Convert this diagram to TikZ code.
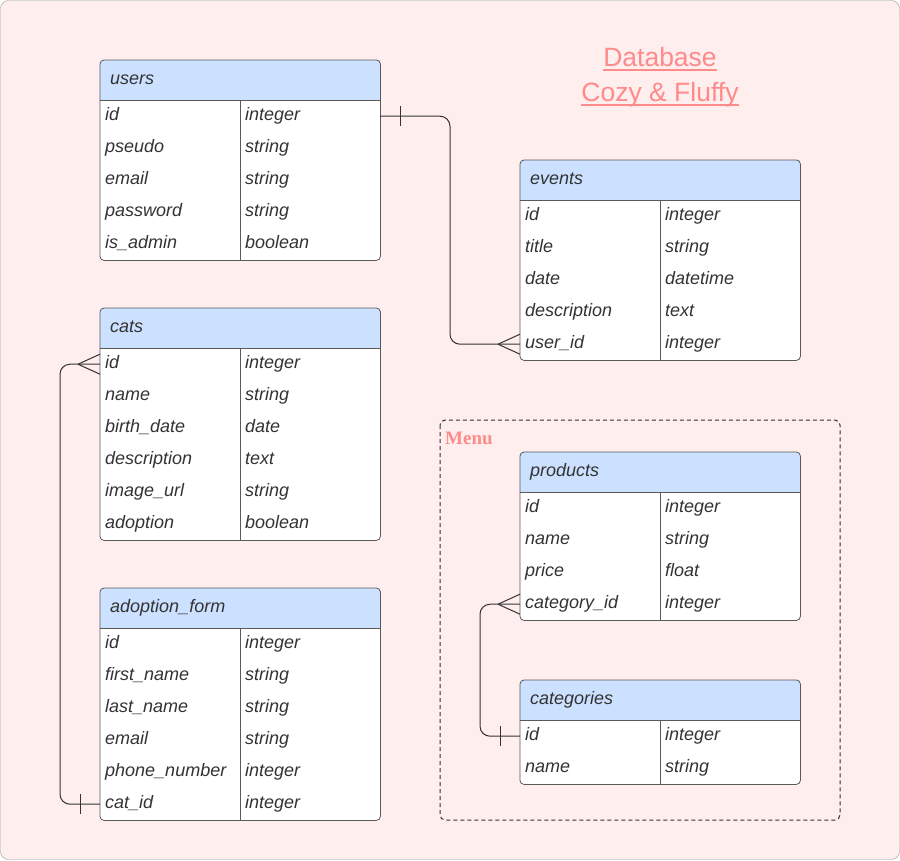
\documentclass[tikz,border=0pt]{standalone}
\usepackage{fontspec}
\setmainfont{Liberation Sans}
\newfontfamily\menufont{Liberation Serif}
\usetikzlibrary{positioning}
\definecolor{canvas}{HTML}{FFEEEE}
\definecolor{headblue}{HTML}{CCE0FF}
\definecolor{framegray}{HTML}{5A5A5A}
\definecolor{inkgray}{HTML}{333333}
\definecolor{titlepink}{HTML}{FF8A8A}

\tikzset{
  cellbox/.style={anchor=north west,minimum width=140pt,minimum height=32pt,inner xsep=5pt,inner ysep=0pt,
    text width=130pt,align=left,text height=14pt,text depth=5pt,text=inkgray,font=\fontsize{18}{20}\selectfont\itshape},
  headbox/.style={cellbox,minimum width=280pt,minimum height=40pt,inner xsep=10pt,text width=260pt},
  link/.style={draw=inkgray,line width=1pt},
  titletext/.style={anchor=base,inner sep=0pt,text=titlepink,font=\fontsize{26.5}{30}\selectfont},
}

% one table: name, top-left corner, title, number of rows, field/type list
\newcommand{\dbtable}[5]{%
  \begin{scope}[shift={#2}]
    \fill[white,rounded corners=4pt] (0,0) rectangle (280,{40+32*#4});
    \fill[headblue,rounded corners=4pt] (0,0) rectangle (280,40);
    \fill[headblue] (0,20) rectangle (280,40);
    \node[headbox] (#1) at (0,0) {#3};
    \foreach \fld/\typ [count=\i] in {#5} {
      \node[cellbox] (#1-\i) at (0,{8+32*\i}) {\fld};
      \node[cellbox] (#1-\i-t) at (140,{8+32*\i}) {\typ};
    }
    \draw[framegray,line width=0.8pt] (#1.south west) -- (#1.south east);
    \draw[framegray,line width=0.8pt] (#1-1.north east) -- (#1-#4.south east);
    \draw[framegray,line width=0.8pt,rounded corners=4pt] (#1.north west) rectangle (#1-#4-t.south east);
  \end{scope}
}
% many end and one end of a relation
\newcommand{\crowfoot}[1]{%
  \draw[link] ([xshift=-22pt]#1) -- ([yshift=10pt]#1) ([xshift=-22pt]#1) -- ([yshift=-10pt]#1);
}
\newcommand{\onebar}[2]{%
  \draw[link] ([xshift=#2,yshift=10pt]#1) -- ([xshift=#2,yshift=-10pt]#1);
}

\begin{document}
\begin{tikzpicture}[x=1pt,y=-1pt]
  \useasboundingbox (0,0) rectangle (900,860);
  \draw[draw=gray!80,fill=canvas,rounded corners=8pt] (0.5,0.5) rectangle (899.5,859.5);

  % title
  \node[titletext] (t1) at (660,66) {Database};
  \node[titletext] (t2) at (660,101) {Cozy \& Fluffy};
  \draw[titlepink,line width=1.6pt] ([yshift=-4pt]t1.base west) -- ([yshift=-4pt]t1.base east);
  \draw[titlepink,line width=1.6pt] ([yshift=-4pt]t2.base west) -- ([yshift=-4pt]t2.base east);

  % menu group
  \draw[inkgray,line width=1pt,dash pattern=on 4pt off 3pt,rounded corners=5pt] (440,420) rectangle (840,820);
  \node[anchor=west,inner sep=0pt,text=titlepink,font=\menufont\fontsize{19}{21}\selectfont\bfseries] (menu) at (445,438) {Menu};

  \dbtable{users}{(100,60)}{users}{5}{id/integer,pseudo/string,email/string,password/string,is\_admin/boolean}
  \dbtable{events}{(520,160)}{events}{5}{id/integer,title/string,date/datetime,description/text,user\_id/integer}
  \dbtable{cats}{(100,308)}{cats}{6}{id/integer,name/string,birth\_date/date,description/text,image\_url/string,adoption/boolean}
  \dbtable{adoption}{(100,588)}{adoption\_form}{6}{id/integer,first\_name/string,last\_name/string,email/string,phone\_number/integer,cat\_id/integer}
  \dbtable{products}{(520,452)}{products}{4}{id/integer,name/string,price/float,category\_id/integer}
  \dbtable{categories}{(520,680)}{categories}{2}{id/integer,name/string}

  % relations
  \draw[link,rounded corners=10pt] (users-1-t.east) -| ([xshift=-70pt]events-5.west) -- (events-5.west);
  \onebar{users-1-t.east}{20pt}
  \crowfoot{events-5.west}

  \draw[link,rounded corners=10pt] (cats-1.west) -- ([xshift=-40pt]cats-1.west) |- (adoption-6.west);
  \crowfoot{cats-1.west}
  \onebar{adoption-6.west}{-20pt}

  \draw[link,rounded corners=10pt] (products-4.west) -- ([xshift=-40pt]products-4.west) |- (categories-1.west);
  \crowfoot{products-4.west}
  \onebar{categories-1.west}{-20pt}
\end{tikzpicture}
\end{document}
